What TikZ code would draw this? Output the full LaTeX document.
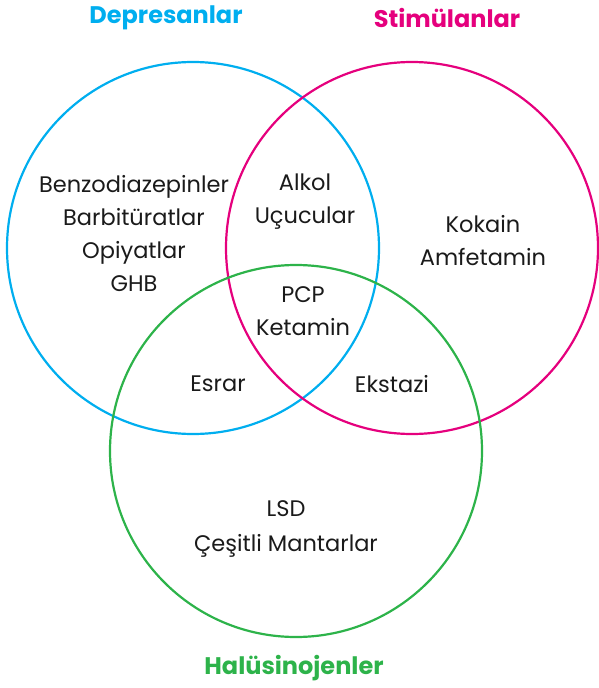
\documentclass[tikz,border=0pt]{standalone}
\usepackage{fontspec}
\setmainfont{Poppins}
\usetikzlibrary{positioning}
\definecolor{depblue}{HTML}{00AEEF}
\definecolor{stimpink}{HTML}{E5007D}
\definecolor{halgreen}{HTML}{2DB34A}
\definecolor{textgray}{HTML}{1A1A1A}
\tikzset{
SET/.style ={draw=#1,line width=2.2pt},
TITLE/.style={text=#1,font=\fontsize{24}{28}\selectfont\bfseries,inner sep=0pt},
ITEM/.style ={text=textgray,align=center,inner sep=0pt,font=\fontsize{22.5}{33}\selectfont},
}
\begin{document}
\begin{tikzpicture}[x=1pt,y=-1pt]
	\useasboundingbox (0,0) rectangle (598,688);
	%Sets
	\coordinate (dep) at (193,248);
	\coordinate (stim) at (412,248);
	\coordinate (hal) at (296,451);
	\draw[SET=depblue] (dep) circle (186);
	\draw[SET=stimpink] (stim) circle (186);
	\draw[SET=halgreen] (hal) circle (186);
	%Titles
	\node[TITLE=depblue] (depT) at (166,18) {Depresanlar};
	\node[TITLE=stimpink] (stimT) at (447,18) {Stimülanlar};
	\node[TITLE=halgreen] (halT) at (294,668) {Halüsinojenler};
	%Members
	\node[ITEM] (depOnly) at (134,234) {Benzodiazepinler\\Barbitüratlar\\Opiyatlar\\GHB};
	\node[ITEM] (depStim) at (305,202) {Alkol\\Uçucular};
	\node[ITEM] (stimOnly) at (483,241) {Kokain\\Amfetamin};
	\node[ITEM] (allThree) at (303,311) {PCP\\Ketamin};
	\node[ITEM] (depHal) at (218,384) {Esrar};
	\node[ITEM] (stimHal) at (392,384) {Ekstazi};
	\node[ITEM,font=\fontsize{22.5}{35}\selectfont] (halOnly) at (286,529) {LSD\\Çeşitli Mantarlar};
\end{tikzpicture}
\end{document}
